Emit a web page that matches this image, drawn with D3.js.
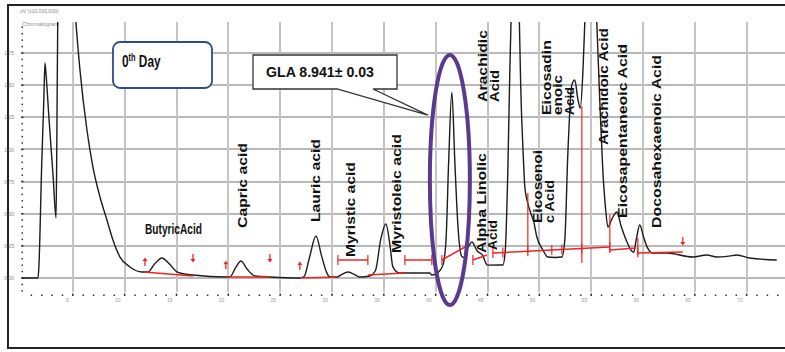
<!DOCTYPE html>
<html>
<head>
<meta charset="utf-8">
<script src="https://cdn.jsdelivr.net/npm/d3@7"></script>
<style>
body{margin:0;background:#fff;}
svg{display:block;font-family:"Liberation Sans",Arial,sans-serif;}
</style>
</head>
<body>
<div id="plot"></div>
<script>
//GC chromatogram, 0th day sample

//trace points: [retention time (min), signal (uV x10,000,000)]
var trace = [
	[0,0],[1.64,0],[1.72,0.08],[2.0,0.89],[2.2,1.38],[2.31,1.672],[2.42,1.58],[2.7,1.24],[3.1,0.79],[3.38,0.467],
	[3.45,1.0],[3.55,2.05],[4.4,4.0],[5.25,2.05],[5.3,1.99],[5.69,1.617],[6.36,1.151],[6.94,0.863],[7.62,0.63],
	[8.29,0.451],[8.87,0.295],[9.55,0.163],[10.51,0.086],[11.67,0.047],[12.25,0.047],
	[12.9,0.11],[13.6,0.156],[14.3,0.11],[15.0,0.05],[15.33,0.039],[16.59,0.023],[19.86,0.008],
	[20.15,0.008],[20.7,0.08],[21.22,0.132],[21.8,0.07],[22.57,0.016],[24.0,0.008],[26.9,0],
	[27.3,0.01],[27.8,0.15],[28.45,0.327],[29.0,0.17],[29.5,0.04],[29.8,0.008],[30.47,0.008],
	[31.0,0.03],[31.53,0.047],[32.1,0.03],[32.69,0.008],[33.65,0.016],
	[34.2,0.06],[34.7,0.3],[35.2,0.42],[35.6,0.25],[35.87,0.086],[36.5,0.039],[39.44,0.039],[39.63,0.023],
	[40.2,0.04],[40.7,0.1],[41.0,0.3],[41.25,0.9],[41.56,1.446],[41.85,0.9],[42.15,0.4],[42.5,0.17],[42.7,0.16],
	[43.2,0.25],[43.49,0.28],[44.0,0.21],[44.5,0.18],[45.0,0.1],[46.48,0.101],
	[46.7,0.2],[46.95,0.8],[47.15,1.6],[47.3,2.1],[47.7,3.5],[48.05,2.1],[48.2,1.5],[48.45,0.95],[48.6,0.708],
	[48.89,0.58],[49.2,0.5],[49.45,0.44],[49.76,0.319],[50.34,0.218],[50.82,0.163],[51.5,0.16],[52.17,0.163],
	[52.46,0.3],[52.75,0.97],[53.13,1.5],[53.42,1.54],[53.7,1.4],[53.95,1.32],[54.2,1.6],[54.39,2.0],[55.0,3.5],
	[55.54,1.99],[55.83,1.38],[56.12,0.84],[56.4,0.53],[56.61,0.397],
	[57.0,0.46],[57.47,0.513],[57.9,0.4],[58.4,0.29],[58.9,0.21],[59.1,0.2],
	[59.35,0.3],[59.69,0.412],[60.05,0.32],[60.4,0.24],[60.95,0.194],[62.3,0.194],[64.8,0.163],[66.15,0.179],
	[67.12,0.163],[68.3,0.17],[69.05,0.179],[70.3,0.156],[72.9,0.14]
];

//integration baselines [t1,v1,t2,v2]
var baselines = [
	[11.86,0.047,16.59,0.016],[19.86,0.008,24.01,0.008],[26.9,0,30.47,0.008],
	[33.46,0.023,37.03,0.039],[40.6,0.14,43.0,0.249],[43.59,0.14,44.94,0.179],
	[45.52,0.194,56.8,0.241],[56.8,0.218,59.3,0.233],[59.4,0.194,63.84,0.202]
];
//bracketed baselines [t1,t2,v]
var brackets = [[30.57,33.46,0.14],[37.03,39.63,0.14]];
//small tick marks [t,v]
var tickMarks = [[40.6,0.14],[43.59,0.14],[45.52,0.194],[46.48,0.198],[48.89,0.208],[51.2,0.218],[52.17,0.222],[54.1,0.23],[56.8,0.241],[59.5,0.2]];
//drop lines [t,vTop,vBottom]
var dropLines = [[48.89,0.661,0.194],[54.1,1.337,0.117],[56.8,0.49,0.194],[59.5,0.311,0.179]];
//integration arrows [t,v,direction]
var arrows = [[11.96,0.124,'up'],[16.59,0.156,'down'],[19.76,0.1,'up'],[24.01,0.156,'down'],[26.9,0.093,'up'],[63.84,0.288,'down']];

//peak labels: text, centre time, bottom signal, length in px
var peakLabels = [
	{text:'Capric acid', t:21.41, v:0.389, len:85},
	{text:'Lauric acid', t:28.45, v:0.435, len:83},
	{text:'Myristic acid', t:31.82, v:0.163, len:95},
	{text:'Myristoleic acid', t:36.26, v:0.194, len:119},
	{text:'Alpha Linolic', t:44.46, v:0.194, len:100},
	{text:'Acid', t:45.52, v:0.218, len:30},
	{text:'Arachidic', t:44.55, v:1.369, len:72},
	{text:'Acid', t:45.71, v:1.369, len:32},
	{text:'Eicosenoi', t:49.86, v:0.428, len:73},
	{text:'c Acid', t:51.01, v:0.428, len:43},
	{text:'Eicosadin', t:50.72, v:1.267, len:75},
	{text:'enoic', t:51.78, v:1.267, len:40},
	{text:'Acid', t:52.94, v:1.267, len:28},
	{text:'Arachidoic Acid', t:56.22, v:1.034, len:117},
	{text:'Eicosapentaneoic Acid', t:58.05, v:0.467, len:174},
	{text:'Docosahexaenoic Acid', t:61.33, v:0.389, len:173}
];

var xTicks = [5,10,15,20,25,30,35,40,45,50,55,60,65,70];
var yTicks = [0,0.25,0.5,0.75,1.0,1.25,1.5,1.75];

var width = 785, height = 352;
var red = '#ee2424';

var svg = d3.select('#plot')
	.append('svg')
	.attr('width',width)
	.attr('height',height);

var x = d3.scaleLinear().domain([0,73.6]).range([21,784]);
var y = d3.scaleLinear().domain([0,1.75]).range([278,53]);

var plotTop = 22, plotBottom = 292;

//frame
svg.append('rect')
	.attr('x',8).attr('y',5)
	.attr('width',790).attr('height',343)
	.style('fill','none')
	.style('stroke','#222')
	.style('stroke-width',2);

svg.append('clipPath').attr('id','clip')
	.append('rect')
	.attr('x',22).attr('y',plotTop)
	.attr('width',763).attr('height',plotBottom-plotTop);

//grid, drawn as thin filled bands
svg.selectAll('.hgrid')
	.data(yTicks)
	.enter()
	.append('rect')
	.attr('class','hgrid')
	.attr('x',22)
	.attr('y',function(d){return Math.round(y(d))-1;})
	.attr('width',763)
	.attr('height',2)
	.style('fill','#b8b8b8');

svg.selectAll('.vgrid')
	.data(xTicks)
	.enter()
	.append('rect')
	.attr('class','vgrid')
	.attr('x',function(d){return Math.round(x(d))-1;})
	.attr('y',plotTop)
	.attr('width',2)
	.attr('height',plotBottom-plotTop)
	.style('fill','#c4c4c4');

//y axis labels
var yAxis = d3.axisLeft(y)
	.tickValues(yTicks)
	.tickFormat(d3.format('.2f'))
	.tickSize(0)
	.tickPadding(7);

var yG = svg.append('g')
	.attr('transform','translate(21,0)')
	.call(yAxis);
yG.select('.domain').remove();
yG.selectAll('text')
	.style('font-size','5px')
	.style('fill','#8a8a8a')
	.style('font-family','"Liberation Sans",Arial,sans-serif');

//dotted y axis
svg.selectAll('.ydot')
	.data(d3.range(-2,40))
	.enter()
	.append('rect')
	.attr('x',function(d){return d%5===0 ? 21 : 21.5;})
	.attr('y',function(d){return y(d*0.05)-0.75;})
	.attr('width',function(d){return d%5===0 ? 2.5 : 1.5;})
	.attr('height',1.5)
	.style('fill','#333');

//dotted x axis
svg.selectAll('.xdot')
	.data(d3.range(1,74))
	.enter()
	.append('rect')
	.attr('x',function(d){return x(d)-0.75;})
	.attr('y',function(d){return d%5===0 ? 293.5 : 294.5;})
	.attr('width',1.5)
	.attr('height',function(d){return d%5===0 ? 2.5 : 1.5;})
	.style('fill','#333');

svg.selectAll('.xlab')
	.data(xTicks)
	.enter()
	.append('text')
	.attr('x',function(d){return x(d)-4;})
	.attr('y',302)
	.attr('text-anchor','end')
	.style('font-size','5px')
	.style('fill','#9a9a9a')
	.text(function(d){return d;});

svg.append('text')
	.attr('x',20).attr('y',13)
	.style('font-size','5px')
	.style('fill','#8a8a8a')
	.text('uV  (x10,000,000)');

svg.append('text')
	.attr('x',22).attr('y',26)
	.style('font-size','5.5px')
	.style('font-style','italic')
	.style('fill','#8a8a8a')
	.text('Chromatogram');

//trace
var line = d3.line()
	.x(function(d){return x(d[0]);})
	.y(function(d){return y(d[1]);})
	.curve(d3.curveMonotoneX);

svg.append('path')
	.datum(trace)
	.attr('d',line)
	.attr('clip-path','url(#clip)')
	.style('fill','none')
	.style('stroke','#1c1c1c')
	.style('stroke-width',1.4)
	.style('stroke-linejoin','round');

//integration marks
var marks = svg.append('g').style('stroke',red).style('stroke-width',1.5).style('fill','none');

baselines.forEach(function(b){
	marks.append('line')
		.attr('x1',x(b[0])).attr('y1',y(b[1]))
		.attr('x2',x(b[2])).attr('y2',y(b[3]));
});

brackets.forEach(function(b){
	marks.append('line')
		.attr('x1',x(b[0])).attr('y1',y(b[2]))
		.attr('x2',x(b[1])).attr('y2',y(b[2]));
	[b[0],b[1]].forEach(function(t){
		marks.append('line')
			.attr('x1',x(t)).attr('x2',x(t))
			.attr('y1',y(b[2])-5).attr('y2',y(b[2])+5)
			.style('stroke-width',1.2);
	});
});

tickMarks.forEach(function(m){
	marks.append('line')
		.attr('x1',x(m[0])).attr('x2',x(m[0]))
		.attr('y1',y(m[1])-5).attr('y2',y(m[1])+5)
		.style('stroke-width',1.2);
});

dropLines.forEach(function(d){
	marks.append('line')
		.attr('x1',x(d[0])).attr('x2',x(d[0]))
		.attr('y1',y(d[1])).attr('y2',y(d[2]))
		.style('stroke-width',1.2);
});

arrows.forEach(function(a){
	var px = x(a[0]), py = y(a[1]);
	var s = a[2]==='up' ? -1 : 1;
	marks.append('line')
		.attr('x1',px).attr('x2',px)
		.attr('y1',py-4*s).attr('y2',py+1*s)
		.style('stroke-width',1.3);
	marks.append('path')
		.attr('d','M'+(px-2.5)+','+(py+1*s)+' L'+(px+2.5)+','+(py+1*s)+' L'+px+','+(py+4.5*s)+' Z')
		.style('fill',red)
		.style('stroke','none');
});

//peak labels (rotated)
peakLabels.forEach(function(p){
	svg.append('text')
		.attr('transform','translate('+(x(p.t)+4.5)+','+y(p.v)+') rotate(-90)')
		.attr('textLength',p.len)
		.attr('lengthAdjust','spacingAndGlyphs')
		.style('font-size','12px')
		.style('font-weight','bold')
		.style('fill','#111')
		.text(p.text);
});

//horizontal label
svg.append('text')
	.attr('x',x(11.96)).attr('y',y(0.342))
	.attr('textLength',57)
	.attr('lengthAdjust','spacingAndGlyphs')
	.style('font-size','14px')
	.style('font-weight','bold')
	.style('fill','#111')
	.text('ButyricAcid');

//GLA ellipse
var gla = {t:41.37, v:0.762, rx:20, ry:125};
svg.append('ellipse')
	.attr('cx',x(gla.t)).attr('cy',y(gla.v))
	.attr('rx',gla.rx).attr('ry',gla.ry)
	.style('fill','none')
	.style('stroke','#5b3a8e')
	.style('stroke-width',4);

//GLA callout
var tipX = x(39.25), tipY = y(1.267);
svg.append('path')
	.attr('d','M253,55 H397 V89 H373 L'+tipX+','+tipY+' L337,89 H253 Z')
	.style('fill','#fff')
	.style('stroke','#333')
	.style('stroke-width',1.3);

svg.append('text')
	.attr('x',266).attr('y',77)
	.attr('textLength',108)
	.attr('lengthAdjust','spacingAndGlyphs')
	.style('font-size','14px')
	.style('font-weight','bold')
	.style('fill','#111')
	.text('GLA 8.941\u00b1 0.03');

//0th Day box
svg.append('rect')
	.attr('x',113).attr('y',42)
	.attr('width',99).attr('height',46)
	.attr('rx',7)
	.style('fill','#fff')
	.style('stroke','#2d4b8e')
	.style('stroke-width',1.8);

var dayText = svg.append('text')
	.attr('transform','translate(122,67) scale(0.74,1)')
	.style('font-size','16px')
	.style('font-weight','bold')
	.style('fill','#111');
dayText.append('tspan').text('0');
dayText.append('tspan').attr('dy',-6).style('font-size','10px').text('th');
dayText.append('tspan').attr('dy',6).text(' Day');

</script>
</body>
</html>
